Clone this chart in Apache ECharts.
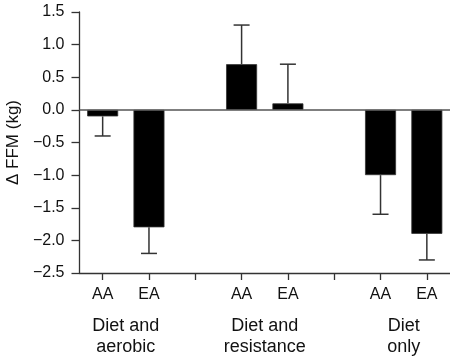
<!DOCTYPE html>
<html><head><meta charset="utf-8">
<script src="https://cdn.jsdelivr.net/npm/echarts@6/dist/echarts.min.js"></script>
<style>html,body{margin:0;padding:0;background:#fff}#c{width:450px;height:359px}</style>
</head><body><div id="c"></div>
<script>
var categories = ["AA", "EA", "", "AA", "EA", "", "AA", "EA"];
var values = [-0.1, -1.8, null, 0.7, 0.1, null, -1.0, -1.9];
var errorEnds = [-0.4, -2.2, null, 1.3, 0.7, null, -1.6, -2.3];
var groupLabels = ["Diet and\naerobic", "Diet and\nresistance", "Diet\nonly"];
var groupSlots = [[0, 1], [3, 4], [6, 7]];

var FONT = "Liberation Sans, Arial, Helvetica, sans-serif";
var chart = echarts.init(document.getElementById('c'), null, {renderer: 'canvas'});

var errData = [];
for (var i = 0; i < categories.length; i++) {
  if (values[i] !== null) errData.push([i, values[i], errorEnds[i]]);
}

chart.setOption({
  animation: false,
  grid: {left: 79.5, right: 0, top: 12, bottom: 86, containLabel: false, outerBoundsMode: 'none'},
  xAxis: {
    type: 'category',
    data: categories,
    boundaryGap: true,
    axisLine: {show: true, onZero: false, lineStyle: {color: '#333', width: 1.3}},
    axisTick: {show: true, alignWithLabel: true, interval: 0, length: 7, lineStyle: {color: '#333', width: 1.3}},
    axisLabel: {interval: 0, color: '#111', fontFamily: FONT, fontSize: 16, margin: 14},
    splitLine: {show: false}
  },
  yAxis: {
    type: 'value',
    min: -2.5, max: 1.5, interval: 0.5,
    name: '\u0394 FFM (kg)',
    nameLocation: 'middle',
    nameGap: 55,
    nameTextStyle: {color: '#111', fontFamily: FONT, fontSize: 17},
    axisLine: {show: true, lineStyle: {color: '#333', width: 1.3}},
    axisTick: {show: true, length: 8, lineStyle: {color: '#333', width: 1.3}},
    axisLabel: {color: '#111', fontFamily: FONT, fontSize: 16, margin: 15,
      formatter: function (v) { return (v < 0 ? '\u2212' + Math.abs(v).toFixed(1) : v.toFixed(1)); }},
    splitLine: {show: false}
  },
  series: [
    {
      type: 'bar',
      data: values,
      barWidth: 31,
      itemStyle: {color: '#000', borderColor: '#333', borderWidth: 0.8},
      markLine: {
        silent: true, symbol: 'none', label: {show: false},
        lineStyle: {color: '#555', width: 1.5, type: 'solid'},
        data: [{yAxis: 0}]
      }
    },
    {
      type: 'custom',
      data: errData,
      z: 3,
      renderItem: function (params, api) {
        var x = api.value(0);
        var p0 = api.coord([x, api.value(1)]);
        var p1 = api.coord([x, api.value(2)]);
        var hw = 8;
        var style = {stroke: '#333', lineWidth: 1.5};
        return {
          type: 'group',
          children: [
            {type: 'line', shape: {x1: p0[0], y1: p0[1], x2: p1[0], y2: p1[1]}, style: style},
            {type: 'line', shape: {x1: p1[0] - hw, y1: p1[1], x2: p1[0] + hw, y2: p1[1]}, style: style}
          ]
        };
      }
    }
  ]
});

var texts = [];
for (var g = 0; g < groupLabels.length; g++) {
  var a = chart.convertToPixel({xAxisIndex: 0}, groupSlots[g][0]);
  var b = chart.convertToPixel({xAxisIndex: 0}, groupSlots[g][1]);
  texts.push({
    type: 'text',
    x: (a + b) / 2, y: 316,
    style: {text: groupLabels[g], fill: '#111', font: '18px ' + FONT, textAlign: 'center', textVerticalAlign: 'top', lineHeight: 21}
  });
}
chart.setOption({graphic: texts});
</script>
</body></html>
